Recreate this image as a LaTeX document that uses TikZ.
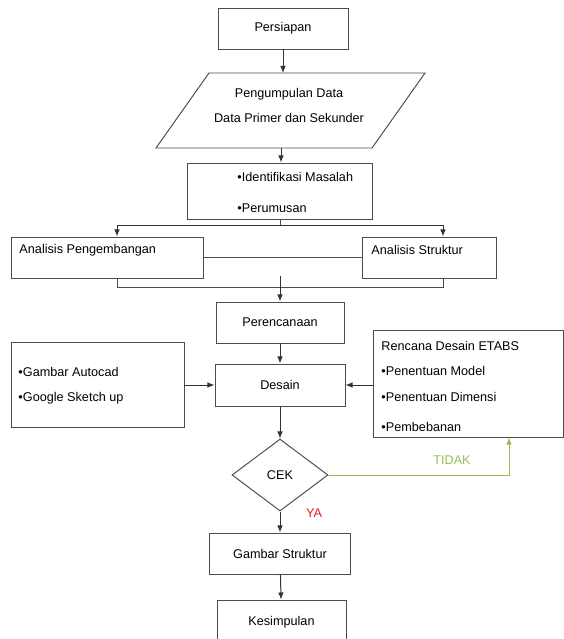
\documentclass[tikz,border=0pt]{standalone}
\usepackage{fontspec}
\setmainfont{Liberation Sans}
\usetikzlibrary{arrows.meta,shapes.geometric,calc}
\definecolor{tidakgreen}{RGB}{155,187,89}
\definecolor{yared}{RGB}{226,32,38}
\begin{document}
\begin{tikzpicture}[x=0.025cm, y=-0.025cm, line width=0.7pt,
    >={Latex[length=5pt,width=4pt]},
    font=\fontsize{9}{11}\selectfont,
    box/.style={draw=black!70, rectangle, inner sep=0pt},
    txt/.style={anchor=west, inner sep=0pt},
    flow/.style={->, draw=black!80},
    link/.style={draw=black!70}]
    \def\px{0.025cm}
    \useasboundingbox (0,0) rectangle (564,639);
    \clip (0,0) rectangle (564,639);

    % Persiapan and data collection
    \node[box, minimum width=130*\px, minimum height=41*\px] (persiapan) at (283,28.5) {Persiapan};
    \draw[link] (209,73) -- (425,73) -- (372,148) -- (156,148) -- cycle;
    \coordinate (dataT) at (283,73);
    \coordinate (dataB) at (281,148);
    \node[align=center] (data) at (289,105.5) {Pengumpulan Data\\[7pt]Data Primer dan Sekunder};

    % Identification
    \node[box, minimum width=185*\px, minimum height=56*\px] (ident) at (280,191) {};
    \node[txt] (identA) at (237,177) {•Identifikasi Masalah};
    \node[txt] (identB) at (237,208) {•Perumusan};

    % Analyses
    \node[box, minimum width=192*\px, minimum height=41*\px] (ap) at (107,257.5) {};
    \node[txt] (apText) at (19,250) {Analisis Pengembangan};
    \node[box, minimum width=134*\px, minimum height=41*\px] (as) at (429,257.5) {};
    \node[txt] (asText) at (371,250) {Analisis Struktur};

    % Design stage
    \node[box, minimum width=128*\px, minimum height=41*\px] (perencanaan) at (280,322.5) {Perencanaan};
    \node[box, minimum width=130*\px, minimum height=42*\px] (desain) at (280,385) {Desain};
    \node[box, minimum width=173*\px, minimum height=85*\px] (autocad) at (97.5,384.5) {};
    \node[txt] (autocadA) at (18,372) {•Gambar Autocad};
    \node[txt] (autocadB) at (18,398) {•Google Sketch up};
    \node[box, minimum width=190*\px, minimum height=107*\px] (etabs) at (468,383.5) {};
    \node[txt] (etabsA) at (381,346) {Rencana Desain ETABS};
    \node[txt] (etabsB) at (381,371) {•Penentuan Model};
    \node[txt] (etabsC) at (381,397) {•Penentuan Dimensi};
    \node[txt] (etabsD) at (381,427) {•Pembebanan};

    % Check and results
    \node[diamond, draw=black!70, aspect=1.333, inner sep=0pt, minimum width=96*\px, minimum height=72*\px] (cek) at (280,475) {CEK};
    \node[box, minimum width=141*\px, minimum height=41*\px] (gambar) at (280,553.5) {Gambar Struktur};
    \node[box, minimum width=129*\px, minimum height=44*\px] (kesimpulan) at (281.5,622) {Kesimpulan};
    \node[text=tidakgreen] (tidak) at (452,460) {TIDAK};
    \node[text=yared] (ya) at (314,513) {YA};

    % Connectors
    \draw[flow] (persiapan) -- (dataT);
    \draw[flow] (dataB) -- (dataB |- ident.north);
    \draw[link] (ident.south) -- ++(0,6) coordinate (split);
    \draw[flow] (split) -| ($(ap.north)+(10,0)$);
    \draw[flow] (split) -| ($(as.north)+(14,0)$);
    \draw[link] (ap) -- (as);
    \draw[link] ($(ap.south)+(10,0)$) -- ++(0,9) -| ($(as.south)+(14,0)$);
    \coordinate (merge) at (280,276);
    \draw[flow] (merge) -- (perencanaan);
    \draw[flow] (perencanaan) -- (desain);
    \draw[flow] (autocad.east |- desain.west) -- (desain.west);
    \draw[flow] (etabs.west |- desain.east) -- (desain.east);
    \draw[flow] (desain) -- (cek);
    \draw[flow] (cek) -- (gambar);
    \draw[flow] (gambar) -- (kesimpulan);
    \draw[->, draw=tidakgreen] (cek.east) -| ($(etabs.south)+(41,0)$);
\end{tikzpicture}
\end{document}
